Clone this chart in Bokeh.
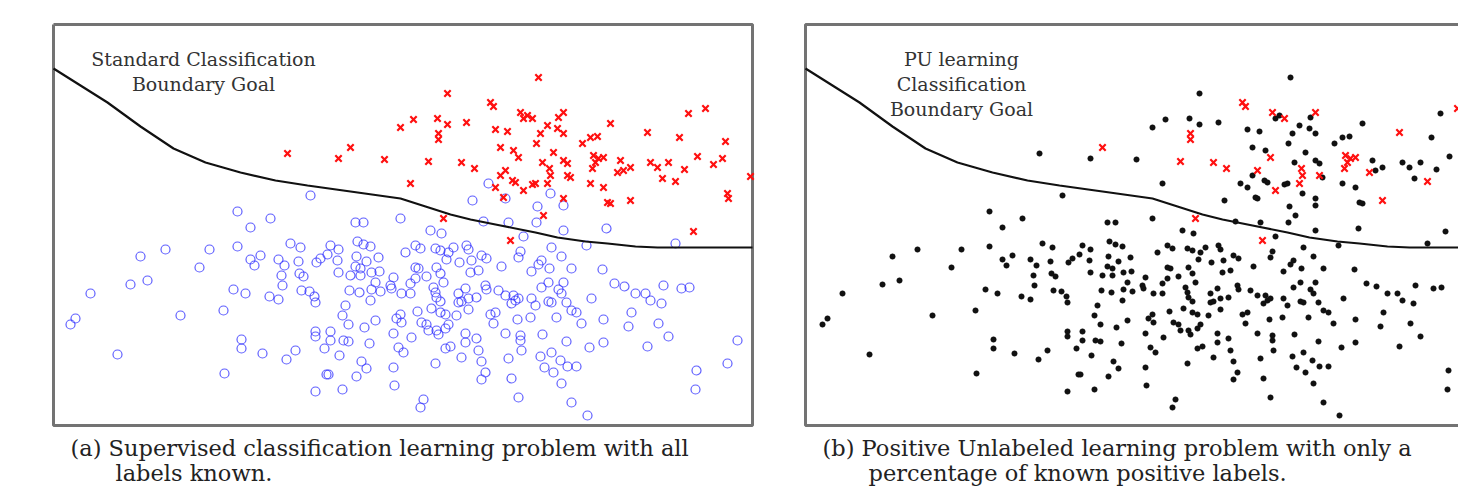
from bokeh.plotting import figure
from bokeh.models import Range1d
from bokeh.layouts import row
from bokeh.core.properties import value
from bokeh.embed import file_html
from bokeh.resources import INLINE

# Coordinates (x to the right, y downward, in reference pixel units of panel (a))
boundary_x = [53, 80, 107, 140, 173, 205, 240, 275, 307, 350, 400, 425, 450, 470, 500, 535, 557, 585, 607, 635, 657, 700, 752]
boundary_y = [68, 85, 102, 126, 148, 162, 172, 180, 185, 191, 198, 206, 214, 219, 225, 232, 237, 241, 243, 246, 247, 247, 247]

neg_pts = [
    (310, 195), (237, 211), (400, 218), (270, 218), (250, 227), (355, 222), (363, 222), (165, 249), (140, 256),
    (209, 249), (237, 246), (199, 267), (130, 284), (147, 280), (90, 293), (75, 318), (70, 324), (180, 315),
    (223, 310), (117, 354), (233, 289), (245, 293), (250, 259), (254, 265), (260, 255), (290, 243), (300, 247),
    (278, 259), (284, 265), (298, 261), (281, 275), (299, 273), (303, 276), (282, 285), (269, 296), (278, 299),
    (301, 290), (309, 291), (314, 296), (315, 302), (316, 262), (320, 258), (327, 254), (330, 245), (338, 249),
    (337, 260), (338, 272), (357, 241), (363, 244), (370, 246), (356, 256), (366, 261), (378, 257), (355, 266),
    (360, 268), (350, 275), (360, 275), (371, 272), (379, 271), (375, 282), (349, 290), (359, 292), (371, 289),
    (380, 291), (370, 300), (345, 305), (342, 315), (348, 324), (364, 327), (375, 320), (315, 331), (315, 336),
    (330, 331), (330, 340), (343, 340), (348, 341), (324, 348), (339, 355), (369, 343), (361, 361), (366, 368),
    (356, 376), (326, 374), (328, 374), (315, 391), (342, 389), (241, 339), (241, 348), (262, 353), (286, 359),
    (295, 350), (224, 373),
    (483, 221), (508, 222), (536, 222), (430, 230), (441, 233), (563, 230), (606, 228), (523, 236), (586, 245),
    (675, 243), (551, 247), (520, 251), (518, 257), (561, 256), (415, 245), (420, 248), (435, 248), (440, 250),
    (448, 252), (453, 247), (466, 245), (468, 249), (405, 252), (446, 259), (459, 262), (471, 260), (481, 255),
    (486, 258), (415, 267), (418, 268), (436, 267), (426, 276), (501, 266), (541, 260), (538, 264), (549, 268),
    (571, 268), (531, 271), (602, 269), (470, 272), (478, 270), (440, 273), (393, 277), (415, 278), (443, 282),
    (390, 285), (391, 288), (410, 283), (433, 287), (435, 292), (436, 297), (440, 301), (401, 293), (410, 293),
    (458, 293), (465, 288), (476, 297), (485, 285), (486, 289), (468, 298), (458, 302), (461, 301), (498, 290),
    (505, 295), (513, 295), (515, 300), (518, 298), (511, 303), (531, 298), (535, 305), (541, 287), (548, 282),
    (563, 282), (558, 289), (561, 293), (548, 301), (551, 302), (566, 302), (591, 298), (571, 310), (576, 312),
    (614, 283), (624, 286), (635, 293), (645, 293), (650, 300), (663, 285), (681, 288), (689, 287), (661, 303),
    (631, 312), (603, 319), (581, 323), (556, 317), (530, 317), (517, 319), (495, 312), (490, 314), (493, 323),
    (468, 309), (456, 315), (440, 312), (445, 314), (431, 308), (417, 311), (400, 314), (396, 318), (401, 322),
    (421, 322), (426, 324), (448, 324), (445, 328), (428, 330), (436, 330), (438, 334), (393, 333), (411, 337),
    (398, 347), (403, 352), (445, 348), (450, 346), (465, 333), (465, 342), (476, 338), (505, 333), (520, 335),
    (520, 340), (542, 334), (566, 341), (603, 342), (589, 347), (628, 326), (658, 323), (668, 336), (647, 346),
    (521, 350), (478, 350), (461, 357), (481, 361), (508, 358), (540, 356), (551, 352), (560, 360), (567, 366),
    (576, 366), (544, 367), (553, 372), (435, 363), (393, 367), (394, 385), (485, 372), (481, 379), (511, 378),
    (561, 383), (518, 397), (423, 399), (420, 407), (571, 402), (587, 415), (696, 370), (695, 389),
    (488, 183), (505, 198), (472, 200), (537, 206), (550, 193), (563, 205), (737, 340), (727, 363),
]

pos_labeled = [
    (350, 147), (490, 102), (493, 106), (520, 112), (532, 118), (563, 112), (438, 133), (438, 139), (428, 161),
    (461, 162), (474, 168), (505, 170), (518, 157), (549, 168), (550, 175), (547, 183), (567, 175), (523, 190),
    (593, 155), (598, 158), (603, 157), (595, 162), (592, 168), (617, 172), (647, 132), (675, 181), (630, 200),
    (705, 108), (443, 218), (510, 240),
]

pos_unlabeled = [
    (287, 153), (338, 158), (384, 159), (400, 127), (538, 77), (447, 93), (413, 119), (437, 118), (447, 124),
    (466, 122), (527, 115), (523, 118), (558, 117), (495, 129), (507, 131), (547, 125), (540, 133), (557, 128),
    (563, 133), (582, 143), (590, 137), (597, 136), (536, 143), (610, 123), (688, 113), (679, 137), (725, 141),
    (500, 147), (513, 150), (553, 152), (542, 162), (563, 160), (567, 163), (620, 160), (630, 167), (623, 170),
    (650, 162), (657, 167), (668, 162), (684, 169), (697, 156), (713, 164), (722, 158), (750, 176), (500, 175),
    (512, 180), (515, 182), (535, 183), (532, 184), (570, 177), (410, 183), (495, 187), (590, 183), (603, 187),
    (662, 178), (727, 193), (728, 198), (503, 197), (563, 198), (607, 202), (610, 203), (543, 215), (693, 231),
]

annot_a = ["Standard Classification", "Boundary Goal"]
annot_b = ["PU learning", "Classification", "Boundary Goal"]
caption_a = ["(a) Supervised classification learning problem with all", "labels known."]
caption_b = ["(b) Positive Unlabeled learning problem with only a", "percentage of known positive labels."]

neg_x = [p[0] for p in neg_pts]
neg_y = [p[1] for p in neg_pts]
lab_x = [p[0] for p in pos_labeled]
lab_y = [p[1] for p in pos_labeled]
unl_x = [p[0] for p in pos_unlabeled]
unl_y = [p[1] for p in pos_unlabeled]

FONT = value("DejaVu Serif")
BORDER = "#737373"
H = 488
BOX_L, BOX_R, BOX_T, BOX_B = 53, 752, 24, 425


def base_fig(width, x_start):
    p = figure(width=width, height=H, output_backend="svg", toolbar_location=None,
               x_range=Range1d(x_start, x_start + width), y_range=Range1d(H, 0),
               x_axis_location=None, y_axis_location=None,
               min_border=0, min_border_left=0, min_border_right=0,
               min_border_top=0, min_border_bottom=0)
    p.xgrid.visible = False
    p.ygrid.visible = False
    p.outline_line_color = None
    p.background_fill_color = "white"
    p.border_fill_color = "white"
    return p


# Panel (a)
p1 = base_fig(790, 0)
p1.line([BOX_L, BOX_R, BOX_R, BOX_L, BOX_L], [BOX_T, BOX_T, BOX_B, BOX_B, BOX_T],
        line_color=BORDER, line_width=3)
p1.scatter(neg_x, neg_y, marker="circle", size=9, fill_color=None,
           line_color="#2a2aff", line_alpha=0.75, line_width=1.2)
p1.scatter(unl_x + lab_x, unl_y + lab_y, marker="x", size=9, line_color="#ff1010", line_width=2.2)
p1.line(boundary_x, boundary_y, line_color="#111111", line_width=2.2)
p1.text(x=[203, 203], y=[58, 83], text=annot_a, text_font=FONT, text_font_size="19px",
        text_align="center", text_baseline="middle", text_color="#333333")
p1.text(x=[70, 115], y=[447, 472], text=caption_a, text_font=FONT, text_font_size="22.5px",
        text_align="left", text_baseline="middle", text_color="#222222")

# Panel (b), cut off at the right edge like the reference
p2 = base_fig(668, 790 - 752)
p2.line([BOX_R + 20, BOX_L, BOX_L, BOX_R + 20], [BOX_T, BOX_T, BOX_B, BOX_B],
        line_color=BORDER, line_width=3)
p2.scatter(neg_x + unl_x, neg_y + unl_y, marker="circle", size=5.5, fill_color="#111111",
           line_color="#111111", line_width=0.5)
p2.scatter(lab_x, lab_y, marker="x", size=9, line_color="#ff1010", line_width=2.2)
p2.line(boundary_x, boundary_y, line_color="#111111", line_width=2.2)
p2.text(x=[209, 209, 209], y=[58, 83, 108], text=annot_b, text_font=FONT, text_font_size="19px",
        text_align="center", text_baseline="middle", text_color="#333333")
p2.text(x=[70, 116], y=[447, 472], text=caption_b, text_font=FONT, text_font_size="22.5px",
        text_align="left", text_baseline="middle", text_color="#222222")

layout = row(p1, p2, spacing=0)
open("out.html", "w").write(file_html(layout, INLINE))
